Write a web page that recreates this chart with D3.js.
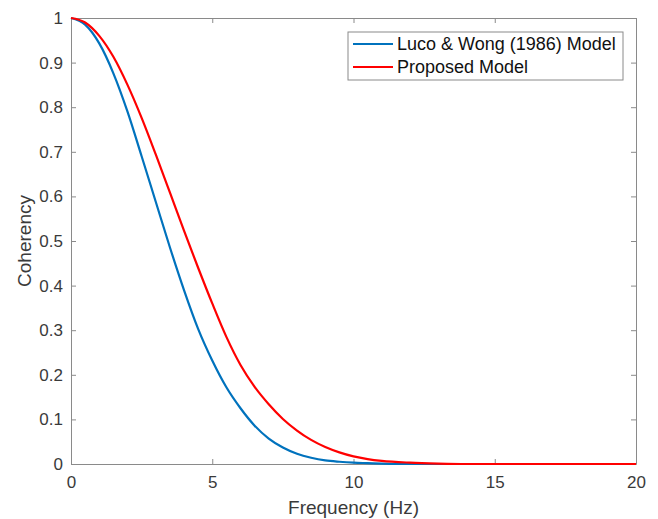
<!DOCTYPE html>
<html>
<head>
<meta charset="utf-8">
<script src="https://cdn.jsdelivr.net/npm/d3@7"></script>
<style>
  body { margin: 0; background: #fff; }
  svg { display: block; font-family: "Liberation Sans", Arial, sans-serif; }
</style>
</head>
<body>
<div id="chart"></div>
<script>
// data
var freq = [ 0, 0.5, 1, 1.5, 2, 2.5, 3, 3.5, 4, 4.5, 5, 5.5, 6, 6.5, 7, 7.5, 8, 8.5, 9, 9.5, 10, 10.5, 11, 12, 13, 14, 15, 16, 17, 18, 19, 20 ];
var lucoWong = [ 1.000, 0.985, 0.943, 0.876, 0.790, 0.690, 0.588, 0.486, 0.390, 0.303, 0.232, 0.172, 0.125, 0.086, 0.057, 0.037, 0.023, 0.014, 0.008, 0.005, 0.003, 0.002, 0.001, 0, 0, 0, 0, 0, 0, 0, 0, 0 ];
var proposed = [ 1.000, 0.990, 0.960, 0.913, 0.850, 0.776, 0.694, 0.609, 0.523, 0.440, 0.360, 0.285, 0.222, 0.173, 0.134, 0.101, 0.075, 0.054, 0.038, 0.026, 0.017, 0.011, 0.007, 0.003, 0.001, 0, 0, 0, 0, 0, 0, 0 ];
var seriesNames = [ 'Luco & Wong (1986) Model', 'Proposed Model' ];
var seriesColors = [ '#0072bd', '#ff0000' ];
var xTicks = [ 0, 5, 10, 15, 20 ];
var yTicks = [ 0, 0.1, 0.2, 0.3, 0.4, 0.5, 0.6, 0.7, 0.8, 0.9, 1 ];

var margin = { left: 71, top: 18, right: 22, bottom: 55 };
var width = 658, height = 519;
var plotW = width - margin.left - margin.right;
var plotH = height - margin.top - margin.bottom;
var axisColor = '#8a8a8a';
var textColor = '#3a3a3a';
var tickLen = 5;

var svg = d3.select( '#chart' )
            .append( 'svg' )
            .attr( 'width', width )
            .attr( 'height', height );

var g = svg.append( 'g' )
           .attr( 'transform', 'translate(' + margin.left + ',' + margin.top + ')' );

var x = d3.scaleLinear().domain( [ 0, 20 ] ).range( [ 0, plotW ] );
var y = d3.scaleLinear().domain( [ 0, 1 ] ).range( [ plotH, 0 ] );

// axes (ticks pointing inward, box on)
function styleAxis( sel ) {
    sel.select( '.domain' ).attr( 'stroke', axisColor ).attr( 'stroke-width', 1 );
    sel.selectAll( '.tick line' ).attr( 'stroke', axisColor );
    sel.selectAll( '.tick text' )
       .attr( 'fill', textColor )
       .style( 'font-size', '17px' );
}

g.append( 'g' )
 .attr( 'transform', 'translate(0,' + plotH + ')' )
 .call( d3.axisBottom( x ).tickValues( xTicks ).tickFormat( d3.format( 'd' ) ).tickSizeInner( -tickLen ).tickSizeOuter( 0 ).tickPadding( 12 ) )
 .call( styleAxis );

g.append( 'g' )
 .call( d3.axisTop( x ).tickValues( xTicks ).tickFormat( '' ).tickSizeInner( -tickLen ).tickSizeOuter( 0 ) )
 .call( styleAxis );

g.append( 'g' )
 .call( d3.axisLeft( y ).tickValues( yTicks ).tickFormat( d3.format( '' ) ).tickSizeInner( -tickLen ).tickSizeOuter( 0 ).tickPadding( 8 ) )
 .call( styleAxis );

g.append( 'g' )
 .attr( 'transform', 'translate(' + plotW + ',0)' )
 .call( d3.axisRight( y ).tickValues( yTicks ).tickFormat( '' ).tickSizeInner( -tickLen ).tickSizeOuter( 0 ) )
 .call( styleAxis );

// curves
var series = [ lucoWong, proposed ];
var line = d3.line()
             .x( function( d, i ) { return x( freq[ i ] ); } )
             .y( function( d ) { return y( d ); } )
             .curve( d3.curveMonotoneX );

series.forEach( function( values, k ) {
    g.append( 'path' )
     .datum( values )
     .attr( 'fill', 'none' )
     .attr( 'stroke', seriesColors[ k ] )
     .attr( 'stroke-width', 2.2 )
     .attr( 'd', line );
});

// axis labels
svg.append( 'text' )
   .attr( 'x', margin.left + plotW / 2 )
   .attr( 'y', 514 )
   .attr( 'text-anchor', 'middle' )
   .attr( 'fill', textColor )
   .style( 'font-size', '19px' )
   .text( 'Frequency (Hz)' );

svg.append( 'text' )
   .attr( 'transform', 'translate(31,' + ( margin.top + plotH / 2 ) + ') rotate(-90)' )
   .attr( 'text-anchor', 'middle' )
   .attr( 'fill', textColor )
   .style( 'font-size', '19px' )
   .text( 'Coherency' );

// legend
var legend = svg.append( 'g' ).attr( 'transform', 'translate(348,32)' );
legend.append( 'rect' )
      .attr( 'width', 275 )
      .attr( 'height', 48 )
      .attr( 'fill', '#fff' )
      .attr( 'stroke', axisColor )
      .attr( 'stroke-width', 1 );

seriesNames.forEach( function( name, k ) {
    var row = legend.append( 'g' ).attr( 'transform', 'translate(0,' + ( 12 + k * 23 ) + ')' );
    row.append( 'line' )
       .attr( 'x1', 5 ).attr( 'x2', 45 )
       .attr( 'stroke', seriesColors[ k ] )
       .attr( 'stroke-width', 2.2 );
    row.append( 'text' )
       .attr( 'x', 49 )
       .attr( 'dy', '0.35em' )
       .attr( 'fill', '#111' )
       .style( 'font-size', '18px' )
       .text( name );
});
</script>
</body>
</html>
